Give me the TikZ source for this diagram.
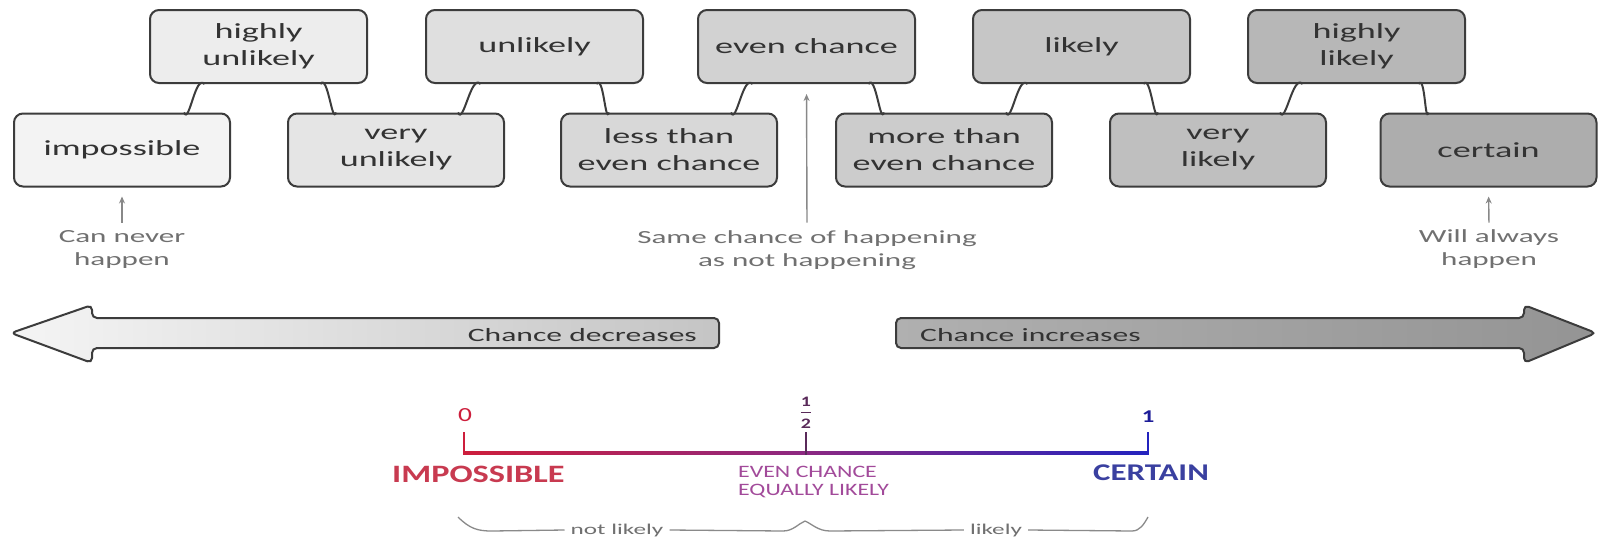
\documentclass[tikz,border=0pt]{standalone}
\usepackage{amsmath}
\usepackage{fontspec}
\setmainfont{Carlito}[FakeStretch=1.68]
\newfontfamily\nlfont{Carlito}[FakeStretch=1.37]
\usetikzlibrary{calc,arrows.meta}
\definecolor{bordercol}{HTML}{3C3C3C}
\definecolor{txtcol}{HTML}{333333}
\definecolor{annocol}{HTML}{707070}
\definecolor{annoarr}{HTML}{888888}
\definecolor{bracecol}{HTML}{8A8A8A}
\definecolor{fA}{HTML}{F3F3F3}
\definecolor{fB}{HTML}{EDEDED}
\definecolor{fC}{HTML}{E5E5E5}
\definecolor{fD}{HTML}{DFDFDF}
\definecolor{fE}{HTML}{D8D8D8}
\definecolor{fF}{HTML}{D2D2D2}
\definecolor{fG}{HTML}{CCCCCC}
\definecolor{fH}{HTML}{C6C6C6}
\definecolor{fI}{HTML}{BFBFBF}
\definecolor{fJ}{HTML}{B7B7B7}
\definecolor{fK}{HTML}{ADADAD}
\definecolor{nlred}{RGB}{205,30,60}
\definecolor{nlpurple}{RGB}{140,40,130}
\definecolor{nlblue}{RGB}{35,35,190}
\definecolor{impcol}{RGB}{200,58,80}
\definecolor{evcol}{RGB}{162,74,154}
\definecolor{cercol}{RGB}{58,64,160}
\definecolor{halfcol}{RGB}{90,42,90}
\newcommand{\mlines}[1]{\begin{tabular}[t]{@{}c@{}}#1\end{tabular}}
\newcommand{\llines}[1]{\begin{tabular}[t]{@{}l@{}}#1\end{tabular}}
\tikzset{
  pbox/.style={draw=bordercol, line width=2pt, rounded corners=9pt,
    minimum height=73pt, inner sep=0pt, align=center, text=txtcol,
    font=\fontsize{21.5}{27}\selectfont},
  topbox/.style={pbox, minimum width=217pt},
  botbox/.style={pbox, minimum width=216pt},
  leg/.style={draw=bordercol, line width=2pt},
  anno/.style={text=annocol, inner sep=0pt, font=\fontsize{18.5}{23}\selectfont},
  annoarrow/.style={draw=annoarr, line width=1.4pt, -{Stealth[length=7pt,width=6pt]}},
  bigarrow/.style={draw=bordercol, line width=2pt, rounded corners=5pt},
  arrowtext/.style={text=txtcol, inner sep=0pt, font=\fontsize{18.8}{23}\selectfont},
  bracetext/.style={text=annocol, inner xsep=6pt, inner ysep=0pt, font=\fontsize{15}{18}\selectfont},
  bracepath/.style={draw=bracecol, line width=1.3pt},
}
\begin{document}
\begin{tikzpicture}[x=1pt,y=-1pt]
\fill[white] (0,0) rectangle (1598,538);
\useasboundingbox (0,0) rectangle (1598,538);

% top row
\node[topbox, fill=fB] (hu) at (258.5,46.5) {highly\\unlikely};
\node[topbox, fill=fD] (un) at (534.5,46.5) {unlikely};
\node[topbox, fill=fF] (ec) at (806.5,46.5) {even chance};
\node[topbox, fill=fH] (li) at (1081.5,46.5) {likely};
\node[topbox, fill=fJ] (hl) at (1356.5,46.5) {highly\\likely};

% bottom row
\node[botbox, fill=fA] (im) at (122,150) {impossible};
\node[botbox, fill=fC] (vu) at (396,150) {very\\unlikely};
\node[botbox, fill=fE] (lt) at (669,150) {less than\\even chance};
\node[botbox, fill=fG] (mt) at (944,150) {more than\\even chance};
\node[botbox, fill=fI] (vl) at (1218,150) {very\\likely};
\node[botbox, fill=fK] (ce) at (1488.5,150) {certain};

% legs
\foreach \t/\l/\r in {hu/im/vu, un/vu/lt, ec/lt/mt, li/mt/vl, hl/vl/ce}{
  \draw[leg] ($(\t.south)+(-54,0)$) to[out=132,in=-68] ($(\l.north)+(62,0)$);
  \draw[leg] ($(\t.south)+(62,0)$) to[out=55,in=-108] ($(\r.north)+(-60,0)$);
}

% annotations
\node[anno, anchor=base] (can) at (122,242) {\mlines{Can never\\happen}};
\node[anno, anchor=base] (same) at (807,243) {\mlines{Same chance of happening\\as not happening}};
\node[anno, anchor=base] (will) at (1489,242) {\mlines{Will always\\happen}};
\draw[annoarrow, shorten <=3pt, shorten >=9pt] (can.north) -- (im.south);
\draw[annoarrow, shorten <=4pt, shorten >=10pt] (same.north) -- (ec.south);
\draw[annoarrow, shorten <=3pt, shorten >=9pt] (will.north) -- (ce.south);

% big arrows
\shadedraw[bigarrow, left color=white!96!black, right color=white!77!black]
  (11,333) -- (92,305) -- (92,318) -- (719,318) -- (719,348) -- (92,348) -- (92,363) -- cycle;
\shadedraw[bigarrow, left color=white!69!black, right color=white!58!black]
  (896,318) -- (1524,318) -- (1524,305) -- (1596,333) -- (1524,363) -- (1524,348) -- (896,348) -- cycle;
\node[arrowtext, anchor=base east] (dec) at (697,341) {Chance decreases};
\node[arrowtext, anchor=base west] (inc) at (920,341) {Chance increases};

% number line
\shade[left color=nlred, right color=nlpurple] (464,451) rectangle (806,454.5);
\shade[left color=nlpurple, right color=nlblue] (806,451) rectangle (1148,454.5);
\draw[nlred, line width=2.6pt] (464,432) -- (464,454.5);
\draw[halfcol, line width=2.6pt] (806,432) -- (806,454.5);
\draw[nlblue, line width=2.6pt] (1148,432) -- (1148,454.5);

\node[text=nlred, inner sep=0pt, font=\nlfont\fontsize{20}{22}\selectfont] (n0) at (465,415.5) {0};
\node[text=halfcol, inner sep=0pt, font=\nlfont\bfseries\fontsize{14.5}{15}\selectfont] (nh) at (806,412.5) {$\genfrac{}{}{1.8pt}{0}{\mbox{1}}{\mbox{2}}$};
\node[text=nlblue!80!black, inner sep=0pt, font=\nlfont\bfseries\fontsize{18}{20}\selectfont] (n1) at (1148,416.5) {1};

\node[text=impcol, inner sep=0pt, anchor=base west, font=\nlfont\bfseries\fontsize{25}{28}\selectfont] (imp) at (392,482) {IMPOSSIBLE};
\node[text=evcol, inner sep=0pt, anchor=base west, font=\nlfont\fontsize{17.4}{18.5}\selectfont] (even) at (738,477) {\llines{EVEN CHANCE\\EQUALLY LIKELY}};
\node[text=cercol, inner sep=0pt, anchor=base west, font=\nlfont\bfseries\fontsize{24}{27}\selectfont] (cer) at (1093,480) {CERTAIN};

% braces
\node[bracetext, anchor=base] (nl) at (617,534) {not likely};
\node[bracetext, anchor=base] (lk) at (996,534) {likely};
\coordinate (b0) at (458,517);
\coordinate (bm) at (805,521);
\coordinate (b1) at (1148,517);
\draw[bracepath] (b0) .. controls (470,529) and (478,531) .. (492,531) -- (nl.west);
\draw[bracepath] (nl.east) -- (783,531) .. controls (793,531) and (798,524) .. (bm);
\draw[bracepath] (bm) .. controls (812,524) and (818,531) .. (830,531) -- (lk.west);
\draw[bracepath] (lk.east) -- (1132,531) .. controls (1140,531) and (1144,524) .. (b1);
\end{tikzpicture}
\end{document}
